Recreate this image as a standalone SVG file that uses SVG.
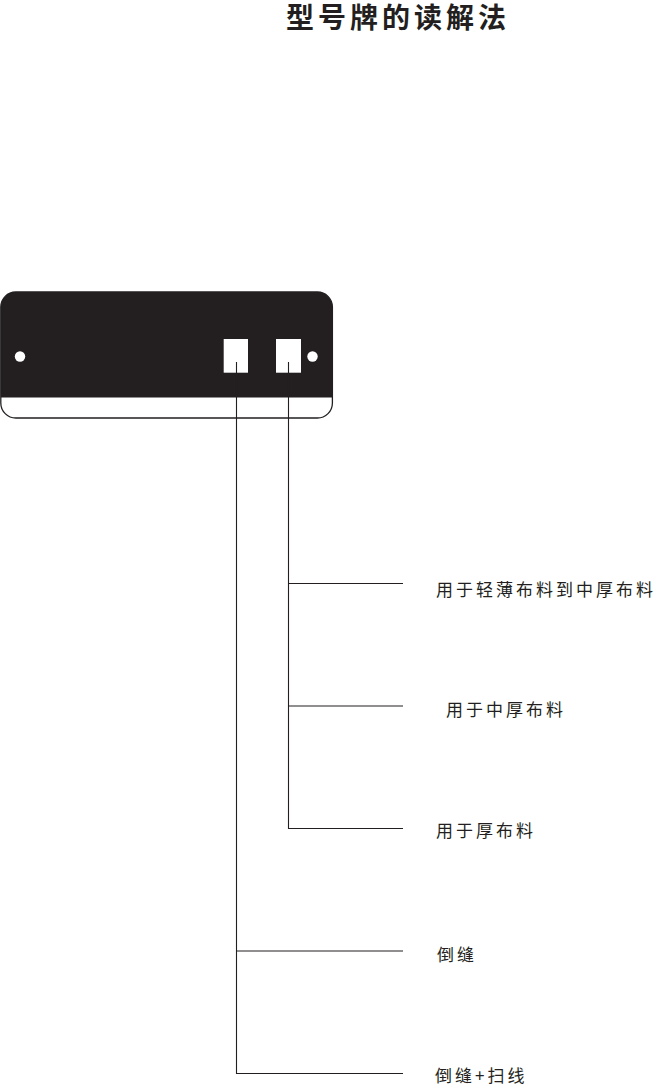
<svg xmlns="http://www.w3.org/2000/svg" width="657" height="1085" viewBox="0 0 657 1085">
<style>
.t{font-family:"Noto Sans CJK SC","Noto Sans",sans-serif;fill:#231f20}
.lbl{font-size:17px;letter-spacing:3px}
.ttl{font-size:28px;font-weight:bold;letter-spacing:4px}
.ln{stroke:#231f20;stroke-width:1.1;fill:none}
</style>
<rect width="657" height="1085" fill="#ffffff"/>
<g id="title"><text class="t ttl" x="286" y="28">型号牌的读解法</text></g>
<g id="plate">
<rect x="0.8" y="292" width="331.6" height="126" rx="15" ry="15" fill="#ffffff" stroke="#231f20" stroke-width="1.3"/>
<path d="M0.8,397.5 V307 A15,15 0 0 1 15.8,292 H317.4 A15,15 0 0 1 332.4,307 V397.5 Z" fill="#231f20"/>
<circle cx="20" cy="356.5" r="5.2" fill="#ffffff"/>
<circle cx="312.5" cy="356.5" r="5.2" fill="#ffffff"/>
<rect id="box1" x="223.7" y="339" width="24.3" height="33.7" fill="#ffffff"/>
<rect id="box2" x="276" y="339" width="25" height="33.7" fill="#ffffff"/>
</g>
<g id="connectors">
<path class="ln" d="M288.5,362 V828.5 H403"/>
<path class="ln" d="M288.5,583.5 H403"/>
<path class="ln" d="M288.5,706 H403"/>
<path class="ln" d="M236.5,362 V1073.5 H403"/>
<path class="ln" d="M236.5,951 H403"/>
</g>
<g id="label1"><text class="t lbl" x="436" y="596">用于轻薄布料到中厚布料</text></g>
<g id="label2"><text class="t lbl" x="446" y="715.5">用于中厚布料</text></g>
<g id="label3"><text class="t lbl" x="436" y="837">用于厚布料</text></g>
<g id="label4"><text class="t lbl" x="437" y="960.5">倒缝</text></g>
<g id="label5"><text class="t lbl" x="435" y="1082">倒缝+扫线</text></g>
</svg>
